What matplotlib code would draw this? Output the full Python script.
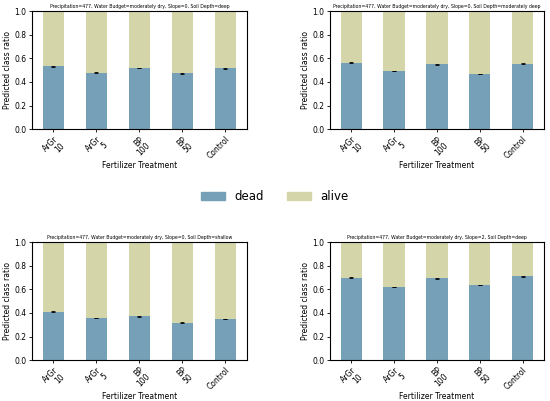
import numpy as np
import matplotlib
matplotlib.use("Agg")
import matplotlib.pyplot as plt
from matplotlib.patches import Patch

treatments = ['ArGr\n10', 'ArGr\n5', 'BP\n100', 'BP\n50', 'Control']

titles = ['Precipitation=477, Water Budget=moderately dry, Slope=0, Soil Depth=deep',
          'Precipitation=477, Water Budget=moderately dry, Slope=0, Soil Depth=moderately deep',
          'Precipitation=477, Water Budget=moderately dry, Slope=0, Soil Depth=shallow',
          'Precipitation=477, Water Budget=moderately dry, Slope=2, Soil Depth=deep']

dead_deep = [0.532, 0.478, 0.518, 0.472, 0.517]
dead_moddeep = [0.563, 0.493, 0.551, 0.468, 0.554]
dead_shallow = [0.410, 0.356, 0.370, 0.318, 0.348]
dead_slope2 = [0.700, 0.621, 0.693, 0.637, 0.712]
err = [0.003, 0.003, 0.003, 0.003, 0.003]

dead_color = '#76a0b7'
alive_color = '#d5d5aa'

fig = plt.figure(figsize=(5.5, 4.01), dpi=100)
positions = [[0.058, 0.678, 0.391, 0.294],
             [0.600, 0.678, 0.389, 0.294],
             [0.058, 0.102, 0.391, 0.294],
             [0.600, 0.102, 0.389, 0.294]]
all_dead = [dead_deep, dead_moddeep, dead_shallow, dead_slope2]

for pos, dead, title in zip(positions, all_dead, titles):
    ax = fig.add_axes(pos)
    x = np.arange(len(treatments))
    dead = np.array(dead)
    alive = 1 - dead
    ax.bar(x, dead, width=0.5, color=dead_color)
    ax.bar(x, alive, width=0.5, bottom=dead, color=alive_color)
    ax.errorbar(x, dead, yerr=err, fmt='none', ecolor='black', elinewidth=0.6, capsize=1.5, capthick=0.6)
    ax.set_xlim(-0.5, 4.5)
    ax.set_ylim(0, 1.0)
    ax.set_xticks(x)
    ax.set_xticklabels(treatments, rotation=45, ha='right', rotation_mode='anchor', fontsize=5.5,
                       linespacing=1.0)
    ax.tick_params(axis='both', labelsize=5.5, length=2.5, width=0.6, pad=1.5)
    ax.set_ylabel('Predicted class ratio', fontsize=5.5, labelpad=1.5)
    ax.set_xlabel('Fertilizer Treatment', fontsize=5.5, labelpad=0)
    ax.set_title(title, fontsize=3.3, pad=2)

handles = [Patch(color=dead_color, label='dead'), Patch(color=alive_color, label='alive')]
fig.legend(handles=handles, loc='center', bbox_to_anchor=(0.5, 0.509), ncol=2, frameon=False,
           fontsize=8.5, handlelength=2.0, handletextpad=0.8, columnspacing=2.0)

fig.savefig('out.png', dpi=100)
